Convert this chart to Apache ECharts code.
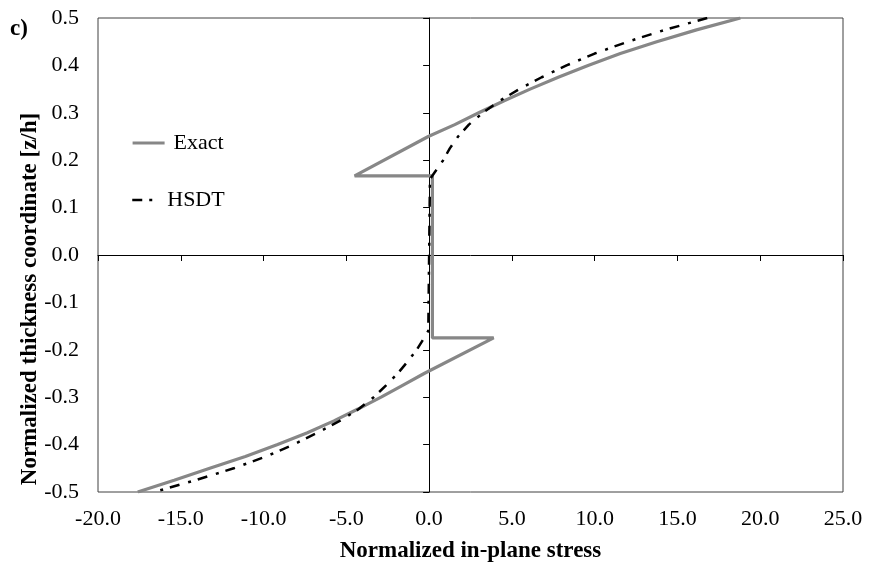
<!DOCTYPE html>
<html><head><meta charset="utf-8">
<script src="https://cdn.jsdelivr.net/npm/echarts@6/dist/echarts.min.js"></script>
<style>html,body{margin:0;padding:0;background:#fff}#chart{width:872px;height:569px}</style>
</head><body><div id="chart"></div>
<script>
// ---- data ----
const seriesNames = ['Exact', 'HSDT'];
const exactZ      = [0.5, 0.475, 0.45, 0.425, 0.4, 0.375, 0.35, 0.325, 0.3, 0.275, 0.25, 0.167, 0.167, -0.175, -0.175, -0.25, -0.275, -0.3, -0.325, -0.35, -0.375, -0.4, -0.425, -0.45, -0.475, -0.5];
const exactStress = [18.8, 16.15, 13.75, 11.55, 9.6, 7.8, 6.1, 4.5, 3.0, 1.55, -0.05, -4.5, 0.2, 0.2, 3.9, -0.3, -1.6, -2.9, -4.3, -5.75, -7.35, -9.15, -11.1, -13.25, -15.4, -17.6];
const hsdtZ       = [0.5, 0.475, 0.45, 0.425, 0.4, 0.375, 0.35, 0.325, 0.3, 0.275, 0.25, 0.225, 0.2, 0.175, 0.16, 0.0, -0.16, -0.175, -0.2, -0.225, -0.25, -0.275, -0.3, -0.325, -0.35, -0.375, -0.4, -0.425, -0.45, -0.475, -0.5];
const hsdtStress  = [16.8, 14.25, 12.0, 10.0, 8.3, 6.8, 5.45, 4.25, 3.25, 2.4, 1.75, 1.25, 0.85, 0.35, 0.05, 0.0, -0.05, -0.3, -0.75, -1.3, -1.9, -2.6, -3.35, -4.25, -5.4, -6.75, -8.2, -9.85, -11.8, -14.1, -16.6];
const xTicks = [-20, -15, -10, -5, 0, 5, 10, 15, 20, 25];
const yTicks = [-0.5, -0.4, -0.3, -0.2, -0.1, 0.0, 0.1, 0.2, 0.3, 0.4, 0.5];
const xTitle = 'Normalized in-plane stress';
const yTitle = 'Normalized thickness coordinate [z/h]';
const panelLabel = 'c)';

const FONT = "'Liberation Serif','Times New Roman',serif";
const fmt1 = v => (Math.abs(v) < 1e-9 ? 0 : v).toFixed(1);
const pairs = (xs, ys) => xs.map((x, i) => [x, ys[i]]);

const xMin = xTicks[0], xMax = xTicks[xTicks.length - 1], xInt = xTicks[1] - xTicks[0];
const yMin = yTicks[0], yMax = yTicks[yTicks.length - 1], yInt = +(yTicks[1] - yTicks[0]).toFixed(3);

const EXACT_COLOR = '#878787';
const exactLine = {color: EXACT_COLOR, width: 3.2};
const hsdtLine = {color: '#000', width: 2.5, type: [10, 7, 3, 9]};

const chart = echarts.init(document.getElementById('chart'), null, {renderer: 'canvas'});
chart.setOption({
  animation: false,
  backgroundColor: '#fff',
  grid: {left: 98, right: 29, top: 18, bottom: 77, show: true, borderColor: '#404040', borderWidth: 1,
         backgroundColor: 'transparent', containLabel: false, outerBoundsMode: 'none'},
  legend: [
    {data: [seriesNames[0]], left: 131, top: 132, padding: 0, itemWidth: 32, itemHeight: 14, orient: 'vertical',
     itemStyle: {opacity: 0}, lineStyle: exactLine,
     textStyle: {fontFamily: FONT, fontSize: 22, color: '#000', padding: [0, 0, 0, 4]}},
    {data: [seriesNames[1]], left: 131, top: 189, padding: 0, itemWidth: 22, itemHeight: 14, orient: 'vertical',
     itemStyle: {opacity: 0}, lineStyle: hsdtLine,
     textStyle: {fontFamily: FONT, fontSize: 22, color: '#000', padding: [0, 0, 0, 8]}}
  ],
  xAxis: [
    {type: 'value', position: 'bottom', min: xMin, max: xMax, interval: xInt,
     axisLine: {show: false, onZero: false}, axisTick: {show: false}, splitLine: {show: false},
     axisLabel: {formatter: fmt1, fontFamily: FONT, fontSize: 22, color: '#000', margin: 16},
     name: xTitle, nameLocation: 'middle', nameGap: 48,
     nameTextStyle: {fontFamily: FONT, fontSize: 23, fontWeight: 'bold', color: '#000'}},
    {type: 'value', position: 'top', min: xMin, max: xMax, interval: xInt,
     axisLine: {show: true, onZero: true, onZeroAxisIndex: 0, lineStyle: {color: '#000', width: 1}},
     axisTick: {show: true, inside: true, length: 6, lineStyle: {color: '#000', width: 1}},
     axisLabel: {show: false}, splitLine: {show: false}}
  ],
  yAxis: [
    {type: 'value', position: 'left', min: yMin, max: yMax, interval: yInt,
     axisLine: {show: false, onZero: false}, axisTick: {show: false}, splitLine: {show: false},
     axisLabel: {formatter: fmt1, fontFamily: FONT, fontSize: 22, color: '#000', margin: 19}},
    {type: 'value', position: 'right', min: yMin, max: yMax, interval: yInt,
     axisLine: {show: true, onZero: true, onZeroAxisIndex: 0, lineStyle: {color: '#000', width: 1}},
     axisTick: {show: true, inside: true, length: 6, lineStyle: {color: '#000', width: 1}},
     axisLabel: {show: false}, splitLine: {show: false}}
  ],
  graphic: [
    {type: 'text', left: 10, top: 18, style: {text: panelLabel, font: "bold 23px " + FONT, fill: '#000'}},
    {type: 'text', x: 30, y: 299, rotation: Math.PI / 2,
     style: {text: yTitle, font: "bold 23px " + FONT, fill: '#000', align: 'center', verticalAlign: 'middle'}}
  ],
  series: [
    {name: seriesNames[0], type: 'line', xAxisIndex: 0, yAxisIndex: 0, symbol: 'none', showSymbol: false,
     data: pairs(exactStress, exactZ), z: 3, lineStyle: exactLine, itemStyle: {color: EXACT_COLOR}},
    {name: seriesNames[1], type: 'line', xAxisIndex: 0, yAxisIndex: 0, symbol: 'none', showSymbol: false,
     data: pairs(hsdtStress, hsdtZ), z: 4, lineStyle: hsdtLine, itemStyle: {color: '#000'}}
  ]
});
</script></body></html>
